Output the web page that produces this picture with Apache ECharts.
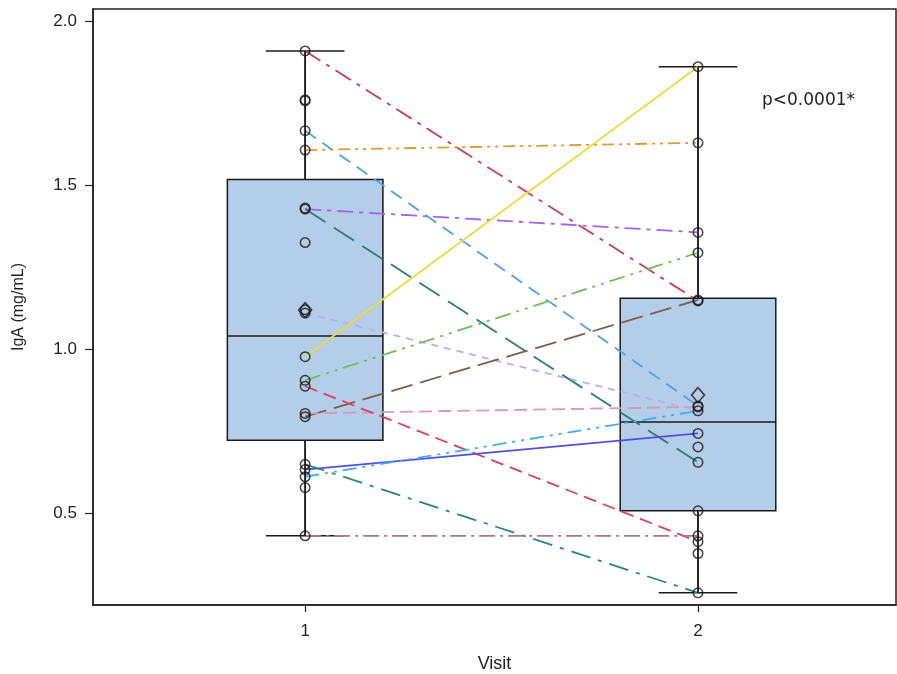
<!DOCTYPE html>
<html>
<head>
<meta charset="utf-8">
<script src="https://cdn.jsdelivr.net/npm/echarts@6/dist/echarts.min.js"></script>
<style>html,body{margin:0;padding:0;background:#fff}#c{width:897px;height:674px}</style>
</head>
<body>
<div id="c"></div>
<script>
// ---- data ----
const visits = [1, 2];
const xTickValues = [1, 2];
const yTickValues = [0.5, 1.0, 1.5, 2.0];
const boxMin = [0.431, 0.257];
const boxQ1 = [0.722, 0.507];
const boxMedian = [1.040, 0.778];
const boxQ3 = [1.517, 1.155];
const boxMax = [1.909, 1.861];
const boxMean = [1.119, 0.860];
const visit1Points = [1.909, 1.757, 1.760, 1.666, 1.607, 1.427, 1.430, 1.325, 1.120, 1.110, 0.977, 0.905, 0.887, 0.804, 0.794, 0.649, 0.633, 0.611, 0.578, 0.431];
const visit2Points = [1.861, 1.629, 1.356, 1.294, 1.150, 1.147, 0.827, 0.824, 0.812, 0.743, 0.702, 0.655, 0.507, 0.431, 0.413, 0.377, 0.257];
const subjectVisit1 = [1.909, 1.666, 1.607, 1.427, 1.427, 1.110, 0.977, 0.905, 0.794, 0.804, 0.887, 0.633, 0.611, 0.649, 0.431];
const subjectVisit2 = [1.147, 0.827, 1.629, 1.356, 0.655, 0.812, 1.861, 1.294, 1.150, 0.824, 0.413, 0.743, 0.812, 0.257, 0.431];
const pText = 'p<0.0001*';

// ---- styles ----
const subjectColors = ['#c83c5c', '#4ea3e3', '#e39a34', '#a862e6', '#2b7f6e', '#bcaeea', '#f0da3a', '#6fbf52', '#7d5e4c', '#d99ab2', '#d8425f', '#5050e0', '#3eaef0', '#2a8a68', '#a77a8a'];
const subjectDash = [[18,7,4,7], [13,8], [12,5,3,5,3,5], [16,6,4,6], [24,10], [7,6], 'solid', [16,6,3,6,3,6], [22,8], [13,6], [13,7], 'solid', [14,6,3,6,3,6], [20,8,4,8], [16,5,3,5]];

const chart = echarts.init(document.getElementById('c'), null, {renderer: 'canvas'});

const boxData = visits.map((v, i) => [v, boxMin[i], boxQ1[i], boxMedian[i], boxQ3[i], boxMax[i]]);

const lineSeries = subjectVisit1.map((v1, i) => ({
  type: 'line',
  data: [[visits[0], v1], [visits[1], subjectVisit2[i]]],
  symbol: 'none',
  silent: true,
  z: 3,
  lineStyle: {color: subjectColors[i], width: 1.8, type: subjectDash[i]}
}));

const pointStyle = {color: 'rgba(0,0,0,0)', borderColor: '#151515', borderWidth: 1.5};

chart.setOption({
  animation: false,
  backgroundColor: '#fff',
  grid: {left: 93, right: 1, top: 9, bottom: 69, outerBoundsMode: 'none', containLabel: false, show: true, borderColor: '#222', borderWidth: 1.5, backgroundColor: 'transparent'},
  xAxis: {
    type: 'value', min: 0.46, max: 2.504,
    name: 'Visit', nameLocation: 'middle', nameGap: 50,
    nameTextStyle: {fontFamily: 'Liberation Sans, Arial', fontSize: 18, color: '#222'},
    axisLine: {show: true, onZero: false, lineStyle: {color: '#222', width: 1.5}},
    axisTick: {show: true, length: 7, customValues: xTickValues, lineStyle: {color: '#222', width: 1.2}},
    axisLabel: {customValues: xTickValues, margin: 18, fontFamily: 'Liberation Sans, Arial', fontSize: 17, color: '#222'},
    splitLine: {show: false}
  },
  yAxis: {
    type: 'value', min: 0.22, max: 2.037,
    name: 'IgA (mg/mL)', nameLocation: 'middle', nameGap: 66, nameRotate: 90,
    nameTextStyle: {fontFamily: 'Liberation Sans, Arial', fontSize: 16, color: '#222'},
    axisLine: {show: true, lineStyle: {color: '#222', width: 1.5}},
    axisTick: {show: true, length: 8, customValues: yTickValues, lineStyle: {color: '#222', width: 1.2}},
    axisLabel: {customValues: yTickValues, margin: 16, fontFamily: 'Liberation Sans, Arial', fontSize: 17, color: '#222',
      formatter: v => Number(v).toFixed(1)},
    splitLine: {show: false}
  },
  graphic: [{
    type: 'text', left: 762, top: 92,
    style: {text: pText, fontFamily: 'DejaVu Sans', fontSize: 17, fill: '#222'}
  }],
  series: [
    {
      type: 'custom',
      data: boxData,
      z: 1,
      silent: true,
      renderItem: function (params, api) {
        const x = api.value(0);
        const pMin = api.coord([x, api.value(1)]);
        const pQ1 = api.coord([x, api.value(2)]);
        const pMed = api.coord([x, api.value(3)]);
        const pQ3 = api.coord([x, api.value(4)]);
        const pMax = api.coord([x, api.value(5)]);
        const half = api.size([0.198, 0])[0];
        const capHalf = api.size([0.1, 0])[0];
        const cx = pMin[0];
        const ls = {stroke: '#1a1a1a', lineWidth: 1.5, fill: null};
        return {
          type: 'group',
          children: [
            {type: 'line', shape: {x1: cx, y1: pMax[1], x2: cx, y2: pQ3[1]}, style: ls},
            {type: 'line', shape: {x1: cx, y1: pQ1[1], x2: cx, y2: pMin[1]}, style: ls},
            {type: 'line', shape: {x1: cx - capHalf, y1: pMax[1], x2: cx + capHalf, y2: pMax[1]}, style: ls},
            {type: 'line', shape: {x1: cx - capHalf, y1: pMin[1], x2: cx + capHalf, y2: pMin[1]}, style: ls},
            {type: 'rect', shape: {x: cx - half, y: pQ3[1], width: 2 * half, height: pQ1[1] - pQ3[1]},
              style: {fill: '#b4cde8', stroke: '#1a1a1a', lineWidth: 1.5}},
            {type: 'line', shape: {x1: cx - half, y1: pMed[1], x2: cx + half, y2: pMed[1]}, style: ls}
          ]
        };
      }
    },
    ...lineSeries,
    {
      type: 'custom',
      data: boxData,
      z: 4,
      silent: true,
      renderItem: function (params, api) {
        const x = api.value(0);
        const pMin = api.coord([x, api.value(1)]);
        const pQ1 = api.coord([x, api.value(2)]);
        const pQ3 = api.coord([x, api.value(4)]);
        const pMax = api.coord([x, api.value(5)]);
        const cx = pMin[0];
        const ls = {stroke: '#1a1a1a', lineWidth: 1.5, fill: null};
        return {type: 'group', children: [
          {type: 'line', shape: {x1: cx, y1: pMax[1], x2: cx, y2: pQ3[1]}, style: ls},
          {type: 'line', shape: {x1: cx, y1: pQ1[1], x2: cx, y2: pMin[1]}, style: ls}
        ]};
      }
    },
    {
      type: 'scatter', z: 5, silent: true,
      data: visit1Points.map(v => [visits[0], v]).concat(visit2Points.map(v => [visits[1], v])),
      symbol: 'circle', symbolSize: 9.5,
      itemStyle: pointStyle
    },
    {
      type: 'scatter', z: 6, silent: true,
      data: visits.map((v, i) => [v, boxMean[i]]),
      symbol: 'diamond', symbolSize: [13, 15],
      itemStyle: {color: 'rgba(0,0,0,0)', borderColor: '#1a1a1a', borderWidth: 1.6}
    }
  ]
});
</script>
</body>
</html>
